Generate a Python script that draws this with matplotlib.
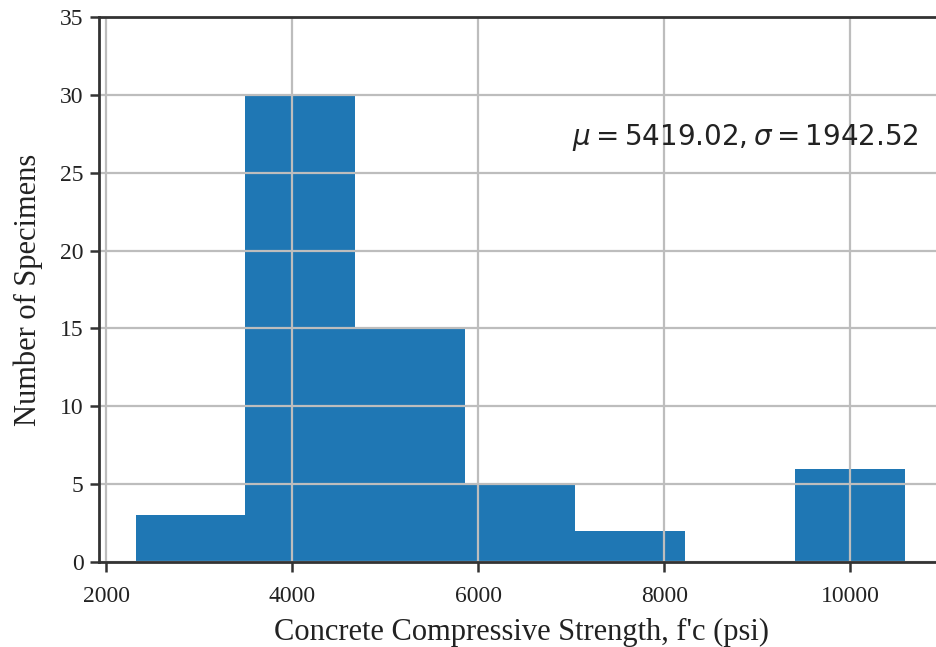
import matplotlib.pyplot as plt

# histogram of measured f'c: bin edges (psi) and specimen counts per bin
bin_edges = [2319, 3499, 4680, 5860, 7041, 8221, 9401, 10582]
counts = [3, 30, 15, 5, 2, 0, 6]
mu = 5419.02
sigma = 1942.52

x_ticks = [2000, 4000, 6000, 8000, 10000]
y_ticks = [0, 5, 10, 15, 20, 25, 30, 35]

fig = plt.figure(figsize=(9.36, 6.47), dpi=100)
ax = fig.add_axes([0.1063, 0.1314, 0.9012, 0.8423])

centers = [(a + b) / 2 for a, b in zip(bin_edges[:-1], bin_edges[1:])]
ax.hist(centers, bins=bin_edges, weights=counts, color='#1f77b4')

ax.set_xlim(1930, 10995)
ax.set_ylim(0, 35)
ax.set_xticks(x_ticks)
ax.set_yticks(y_ticks)
ax.grid(True, color='#bdbdbd', linewidth=1.6)

for s in ax.spines.values():
    s.set_linewidth(2.0)
    s.set_color('#333333')
ax.tick_params(axis='x', width=1.8, length=7.5, pad=10, color='#333333')
ax.tick_params(axis='y', width=1.8, length=6.5, pad=5, color='#333333')

serif = 'Liberation Serif'
for lbl in ax.get_xticklabels() + ax.get_yticklabels():
    lbl.set_fontfamily(serif)
    lbl.set_fontsize(17)
    lbl.set_color('#222222')

ax.set_xlabel("Concrete Compressive Strength, f'c (psi)", fontfamily=serif,
              fontsize=22, color='#222222', labelpad=8)
ax.set_ylabel('Number of Specimens', fontfamily=serif, fontsize=22,
              color='#222222', labelpad=12)

ax.text(7005, 26.75, r'$\mu = %.2f, \sigma = %.2f$' % (mu, sigma),
        fontsize=20, color='#222222', va='baseline')

fig.savefig('out.png', dpi=100)
